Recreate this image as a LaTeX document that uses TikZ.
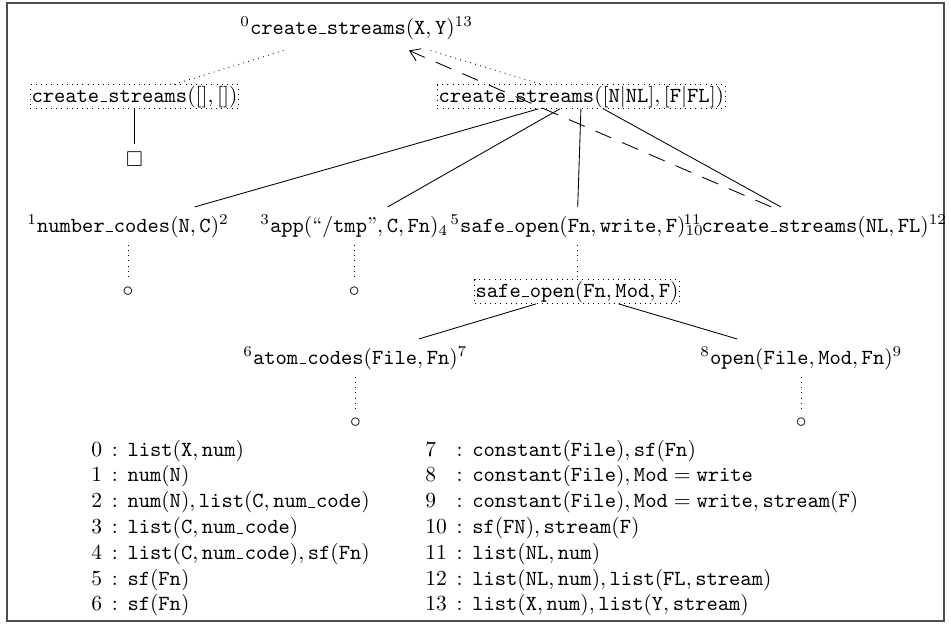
\documentclass[tikz,border=0pt]{standalone}
\usepackage{amsmath,amssymb}
\usetikzlibrary{arrows.meta}
\newcommand{\us}{\mbox{\kern.06em\rule{.3em}{.4pt}\kern.06em}}
\newcommand{\tm}[1]{\mathtt{#1}}
\begin{document}
\begin{tikzpicture}[x=0.4651pt, y=-0.4651pt,
  lbl/.style={inner xsep=0pt, inner ysep=3.33pt},
  dotbox/.style={draw, dotted, inner sep=0.5pt},
  leaf/.style={inner sep=3.33pt},
  dotedge/.style={dotted},
  backedge/.style={-{Straight Barb[length=4.5pt,width=6pt]}, dash pattern=on 8pt off 5.5pt},
  tbl/.style={anchor=base west, inner sep=0pt}]
\useasboundingbox (0,0) rectangle (951,624);
\draw[black!70, line width=0.6pt] (7,3) rectangle (944,621);

% tree nodes
\node[lbl, anchor=base west, inner ysep=5pt] (T) at (240,34)
  {${}^{0}\tm{create\us streams}(\tm{X},\tm{Y})^{13}$};
\node[dotbox, anchor=base west] (L) at (30,102)
  {$\tm{create\us streams}([],[])$};
\node[dotbox, anchor=base west] (R) at (437,102)
  {$\tm{create\us streams}([\tm{N}|\tm{NL}],[\tm{F}|\tm{FL}])$};
\node[leaf] (S) at (L.center |- 0,159) {$\square$};

\node[lbl, anchor=base west] (N1) at (27,232)
  {${}^{1}\tm{number\us codes}(\tm{N},\tm{C})^{2}$};
\node[lbl, anchor=base west] (N3) at (260,232)
  {${}^{3}\tm{app}(\text{``}\tm{/tmp}\text{''},\tm{C},\tm{Fn})_{4}$};
\node[lbl, anchor=base west] (N5) at (450,232)
  {${}^{5}\tm{safe\us open}(\tm{Fn},\tm{write},\tm{F})_{10}$};
\node[lbl, anchor=base west] (N11) at (683,232)
  {${}^{11}\tm{create\us streams}(\tm{NL},\tm{FL})^{12}$};

\node[leaf] (C1) at (N1.center |- 0,292) {$\circ$};
\node[leaf] (C3) at (N3.center |- 0,292) {$\circ$};
\node[dotbox, anchor=base] (M) at (N5.center |- 0,297)
  {$\tm{safe\us open}(\tm{Fn},\tm{Mod},\tm{F})$};

\node[lbl, anchor=base west] (A) at (243,364)
  {${}^{6}\tm{atom\us codes}(\tm{File},\tm{Fn})^{7}$};
\node[lbl, anchor=base west] (O) at (700,364)
  {${}^{8}\tm{open}(\tm{File},\tm{Mod},\tm{Fn})^{9}$};
\node[leaf] (C6) at (A.center |- 0,423) {$\circ$};
\node[leaf] (C8) at (O.center |- 0,423) {$\circ$};

% connectors
\draw[dotedge] (T) -- (L);
\draw[dotedge] (T) -- (R);
\draw (L) -- (S);
\draw (R) -- (N1);
\draw (R) -- (N3);
\draw (R) -- (N5);
\draw (R) -- (N11);
\draw[backedge] (N11) -- (T);
\draw[dotedge] (N1) -- (C1);
\draw[dotedge] (N3) -- (C3);
\draw[dotedge] (N5) -- (M);
\draw (M) -- (A);
\draw (M) -- (O);
\draw[dotedge] (A) -- (C6);
\draw[dotedge] (O) -- (C8);

% table
\node[tbl] (TL) at (91,456) {$\begin{array}[t]{@{}l@{\hspace{4.5pt}}c@{\hspace{4.5pt}}l@{}}
0 & : & \tm{list}(\tm{X},\tm{num})\\
1 & : & \tm{num}(\tm{N})\\
2 & : & \tm{num}(\tm{N}),\tm{list}(\tm{C},\tm{num\us code})\\
3 & : & \tm{list}(\tm{C},\tm{num\us code})\\
4 & : & \tm{list}(\tm{C},\tm{num\us code}),\tm{sf}(\tm{Fn})\\
5 & : & \tm{sf}(\tm{Fn})\\
6 & : & \tm{sf}(\tm{Fn})
\end{array}$};
\node[tbl] (TR) at (425,456) {$\begin{array}[t]{@{}l@{\hspace{4.5pt}}c@{\hspace{4.5pt}}l@{}}
7 & : & \tm{constant}(\tm{File}),\tm{sf}(\tm{Fn})\\
8 & : & \tm{constant}(\tm{File}),\tm{Mod}=\tm{write}\\
9 & : & \tm{constant}(\tm{File}),\tm{Mod}=\tm{write},\tm{stream}(\tm{F})\\
10 & : & \tm{sf}(\tm{FN}),\tm{stream}(\tm{F})\\
11 & : & \tm{list}(\tm{NL},\tm{num})\\
12 & : & \tm{list}(\tm{NL},\tm{num}),\tm{list}(\tm{FL},\tm{stream})\\
13 & : & \tm{list}(\tm{X},\tm{num}),\tm{list}(\tm{Y},\tm{stream})
\end{array}$};
\end{tikzpicture}
\end{document}
